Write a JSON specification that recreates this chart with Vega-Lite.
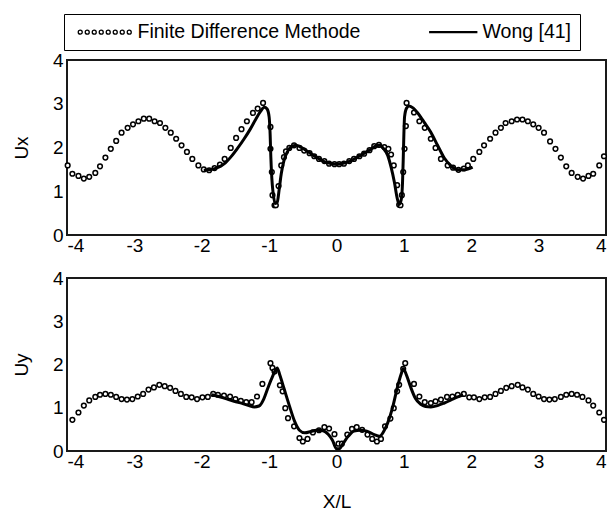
{
  "$schema": "https://vega.github.io/schema/vega-lite/v6.json",
  "padding": {"left": 11, "top": 12, "right": 4, "bottom": 2},
  "background": "white",
  "config": {
    "view": {"stroke": "#1a1a1a", "strokeWidth": 2},
    "font": "Liberation Sans",
    "axis": {
      "grid": false, "ticks": false, "domain": false,
      "labelFont": "Liberation Sans", "labelFontSize": 19, "labelColor": "black",
      "titleFont": "Liberation Sans", "titleFontSize": 19, "titleFontWeight": "normal", "titleColor": "black"
    }
  },
  "datasets": {
    "fdm_ux": [
      {"x": -3.99, "y": 1.59}, {"x": -3.92, "y": 1.40}, {"x": -3.83, "y": 1.35}, {"x": -3.75, "y": 1.29}, {"x": -3.67, "y": 1.33},
      {"x": -3.58, "y": 1.42}, {"x": -3.51, "y": 1.57}, {"x": -3.43, "y": 1.77}, {"x": -3.35, "y": 1.97}, {"x": -3.27, "y": 2.15},
      {"x": -3.19, "y": 2.34}, {"x": -3.10, "y": 2.45}, {"x": -3.02, "y": 2.53}, {"x": -2.94, "y": 2.60}, {"x": -2.86, "y": 2.66},
      {"x": -2.78, "y": 2.66}, {"x": -2.70, "y": 2.60}, {"x": -2.62, "y": 2.56}, {"x": -2.54, "y": 2.45}, {"x": -2.46, "y": 2.34},
      {"x": -2.38, "y": 2.20}, {"x": -2.30, "y": 2.05}, {"x": -2.22, "y": 1.90}, {"x": -2.14, "y": 1.74}, {"x": -2.05, "y": 1.59},
      {"x": -1.97, "y": 1.50}, {"x": -1.89, "y": 1.48}, {"x": -1.81, "y": 1.53}, {"x": -1.73, "y": 1.61}, {"x": -1.66, "y": 1.74},
      {"x": -1.57, "y": 1.99}, {"x": -1.49, "y": 2.22}, {"x": -1.41, "y": 2.42}, {"x": -1.33, "y": 2.60}, {"x": -1.24, "y": 2.79},
      {"x": -1.17, "y": 2.89}, {"x": -1.09, "y": 3.02}, {"x": -0.98, "y": 2.47}, {"x": -0.98, "y": 1.97}, {"x": -0.96, "y": 1.44},
      {"x": -0.95, "y": 0.91}, {"x": -0.92, "y": 0.68}, {"x": -0.90, "y": 0.68}, {"x": -0.86, "y": 1.12}, {"x": -0.82, "y": 1.59},
      {"x": -0.78, "y": 1.78}, {"x": -0.75, "y": 1.91}, {"x": -0.70, "y": 1.99}, {"x": -0.63, "y": 2.05}, {"x": -0.55, "y": 1.99},
      {"x": -0.48, "y": 1.93}, {"x": -0.40, "y": 1.87}, {"x": -0.33, "y": 1.80}, {"x": -0.26, "y": 1.74}, {"x": -0.18, "y": 1.69},
      {"x": -0.11, "y": 1.63}, {"x": -0.03, "y": 1.62}, {"x": 0.04, "y": 1.62}, {"x": 0.11, "y": 1.63}, {"x": 0.19, "y": 1.69},
      {"x": 0.26, "y": 1.74}, {"x": 0.34, "y": 1.80}, {"x": 0.41, "y": 1.86}, {"x": 0.49, "y": 1.94}, {"x": 0.56, "y": 2.03},
      {"x": 0.63, "y": 2.06}, {"x": 0.71, "y": 2.01}, {"x": 0.77, "y": 1.97}, {"x": 0.81, "y": 1.84}, {"x": 0.85, "y": 1.59},
      {"x": 0.90, "y": 1.14}, {"x": 0.93, "y": 0.69}, {"x": 0.95, "y": 0.68}, {"x": 0.97, "y": 0.91}, {"x": 0.99, "y": 1.44},
      {"x": 1.01, "y": 1.97}, {"x": 1.03, "y": 2.49}, {"x": 1.04, "y": 3.02}, {"x": 1.15, "y": 2.80}, {"x": 1.23, "y": 2.60},
      {"x": 1.31, "y": 2.45}, {"x": 1.40, "y": 2.20}, {"x": 1.47, "y": 1.99}, {"x": 1.55, "y": 1.74}, {"x": 1.65, "y": 1.59},
      {"x": 1.73, "y": 1.54}, {"x": 1.81, "y": 1.49}, {"x": 1.89, "y": 1.52}, {"x": 1.95, "y": 1.59}, {"x": 2.03, "y": 1.74},
      {"x": 2.12, "y": 1.90}, {"x": 2.19, "y": 2.05}, {"x": 2.28, "y": 2.20}, {"x": 2.36, "y": 2.34}, {"x": 2.44, "y": 2.45},
      {"x": 2.51, "y": 2.56}, {"x": 2.60, "y": 2.60}, {"x": 2.68, "y": 2.64}, {"x": 2.76, "y": 2.64}, {"x": 2.84, "y": 2.60},
      {"x": 2.92, "y": 2.53}, {"x": 3.00, "y": 2.45}, {"x": 3.08, "y": 2.34}, {"x": 3.17, "y": 2.14}, {"x": 3.25, "y": 1.97},
      {"x": 3.33, "y": 1.77}, {"x": 3.41, "y": 1.57}, {"x": 3.49, "y": 1.42}, {"x": 3.58, "y": 1.33}, {"x": 3.66, "y": 1.29},
      {"x": 3.74, "y": 1.35}, {"x": 3.81, "y": 1.40}, {"x": 3.90, "y": 1.59}, {"x": 3.97, "y": 1.80}
    ],
    "wong_ux": [
      {"x": -1.97, "y": 1.48}, {"x": -1.85, "y": 1.50}, {"x": -1.75, "y": 1.55}, {"x": -1.65, "y": 1.65}, {"x": -1.57, "y": 1.78},
      {"x": -1.47, "y": 1.98}, {"x": -1.37, "y": 2.20}, {"x": -1.28, "y": 2.42}, {"x": -1.20, "y": 2.64}, {"x": -1.13, "y": 2.82},
      {"x": -1.07, "y": 2.92}, {"x": -1.03, "y": 2.88}, {"x": -1.00, "y": 2.70}, {"x": -0.985, "y": 2.30}, {"x": -0.975, "y": 1.80},
      {"x": -0.96, "y": 1.30}, {"x": -0.94, "y": 0.95}, {"x": -0.91, "y": 0.72}, {"x": -0.88, "y": 0.75}, {"x": -0.85, "y": 1.05},
      {"x": -0.82, "y": 1.40}, {"x": -0.78, "y": 1.70}, {"x": -0.73, "y": 1.90}, {"x": -0.67, "y": 2.02}, {"x": -0.60, "y": 2.05},
      {"x": -0.52, "y": 2.00}, {"x": -0.40, "y": 1.88}, {"x": -0.30, "y": 1.78}, {"x": -0.20, "y": 1.69}, {"x": -0.10, "y": 1.64},
      {"x": 0.00, "y": 1.62}, {"x": 0.10, "y": 1.64}, {"x": 0.20, "y": 1.69}, {"x": 0.30, "y": 1.77}, {"x": 0.40, "y": 1.86},
      {"x": 0.50, "y": 1.95}, {"x": 0.58, "y": 2.03}, {"x": 0.64, "y": 2.05}, {"x": 0.70, "y": 1.97}, {"x": 0.76, "y": 1.82},
      {"x": 0.81, "y": 1.55}, {"x": 0.86, "y": 1.20}, {"x": 0.90, "y": 0.85}, {"x": 0.93, "y": 0.70}, {"x": 0.96, "y": 0.80},
      {"x": 0.98, "y": 1.20}, {"x": 0.99, "y": 1.70}, {"x": 1.00, "y": 2.30}, {"x": 1.01, "y": 2.70}, {"x": 1.04, "y": 2.90},
      {"x": 1.08, "y": 2.95}, {"x": 1.14, "y": 2.90}, {"x": 1.20, "y": 2.80}, {"x": 1.30, "y": 2.58}, {"x": 1.40, "y": 2.35},
      {"x": 1.50, "y": 2.05}, {"x": 1.60, "y": 1.76}, {"x": 1.70, "y": 1.58}, {"x": 1.80, "y": 1.49}, {"x": 1.90, "y": 1.49},
      {"x": 2.02, "y": 1.55}
    ],
    "fdm_uy": [
      {"x": -3.92, "y": 0.72}, {"x": -3.83, "y": 0.89}, {"x": -3.75, "y": 1.05}, {"x": -3.67, "y": 1.17}, {"x": -3.58, "y": 1.25},
      {"x": -3.51, "y": 1.30}, {"x": -3.43, "y": 1.32}, {"x": -3.35, "y": 1.30}, {"x": -3.27, "y": 1.25}, {"x": -3.19, "y": 1.20},
      {"x": -3.11, "y": 1.19}, {"x": -3.03, "y": 1.20}, {"x": -2.95, "y": 1.26}, {"x": -2.87, "y": 1.32}, {"x": -2.79, "y": 1.42},
      {"x": -2.71, "y": 1.47}, {"x": -2.63, "y": 1.53}, {"x": -2.55, "y": 1.50}, {"x": -2.47, "y": 1.46}, {"x": -2.39, "y": 1.39},
      {"x": -2.31, "y": 1.32}, {"x": -2.23, "y": 1.25}, {"x": -2.15, "y": 1.24}, {"x": -2.07, "y": 1.20}, {"x": -1.99, "y": 1.24},
      {"x": -1.91, "y": 1.25}, {"x": -1.83, "y": 1.32}, {"x": -1.76, "y": 1.30}, {"x": -1.67, "y": 1.28}, {"x": -1.58, "y": 1.26},
      {"x": -1.50, "y": 1.20}, {"x": -1.42, "y": 1.16}, {"x": -1.34, "y": 1.13}, {"x": -1.26, "y": 1.13}, {"x": -1.18, "y": 1.26},
      {"x": -1.10, "y": 1.55}, {"x": -0.98, "y": 2.03}, {"x": -0.95, "y": 1.92}, {"x": -0.92, "y": 1.84}, {"x": -0.84, "y": 1.52},
      {"x": -0.80, "y": 1.38}, {"x": -0.76, "y": 0.99}, {"x": -0.72, "y": 0.76}, {"x": -0.63, "y": 0.57}, {"x": -0.55, "y": 0.30},
      {"x": -0.50, "y": 0.22}, {"x": -0.43, "y": 0.28}, {"x": -0.35, "y": 0.43}, {"x": -0.26, "y": 0.48}, {"x": -0.18, "y": 0.55},
      {"x": -0.11, "y": 0.52}, {"x": -0.03, "y": 0.39}, {"x": 0.03, "y": 0.17}, {"x": 0.08, "y": 0.17}, {"x": 0.16, "y": 0.38},
      {"x": 0.23, "y": 0.51}, {"x": 0.30, "y": 0.55}, {"x": 0.38, "y": 0.49}, {"x": 0.46, "y": 0.38}, {"x": 0.53, "y": 0.28},
      {"x": 0.60, "y": 0.22}, {"x": 0.66, "y": 0.28}, {"x": 0.72, "y": 0.57}, {"x": 0.80, "y": 0.75}, {"x": 0.85, "y": 0.99},
      {"x": 0.90, "y": 1.38}, {"x": 0.93, "y": 1.53}, {"x": 0.99, "y": 1.90}, {"x": 1.02, "y": 2.03}, {"x": 1.15, "y": 1.55},
      {"x": 1.23, "y": 1.26}, {"x": 1.31, "y": 1.13}, {"x": 1.40, "y": 1.11}, {"x": 1.47, "y": 1.15}, {"x": 1.55, "y": 1.19},
      {"x": 1.64, "y": 1.25}, {"x": 1.72, "y": 1.26}, {"x": 1.80, "y": 1.30}, {"x": 1.89, "y": 1.32}, {"x": 1.97, "y": 1.24},
      {"x": 2.04, "y": 1.24}, {"x": 2.12, "y": 1.20}, {"x": 2.20, "y": 1.24}, {"x": 2.28, "y": 1.25}, {"x": 2.36, "y": 1.32},
      {"x": 2.44, "y": 1.39}, {"x": 2.52, "y": 1.46}, {"x": 2.60, "y": 1.50}, {"x": 2.69, "y": 1.53}, {"x": 2.76, "y": 1.47},
      {"x": 2.84, "y": 1.42}, {"x": 2.92, "y": 1.32}, {"x": 3.00, "y": 1.26}, {"x": 3.08, "y": 1.20}, {"x": 3.16, "y": 1.19},
      {"x": 3.24, "y": 1.20}, {"x": 3.33, "y": 1.25}, {"x": 3.41, "y": 1.30}, {"x": 3.49, "y": 1.32}, {"x": 3.57, "y": 1.30},
      {"x": 3.65, "y": 1.25}, {"x": 3.74, "y": 1.17}, {"x": 3.81, "y": 1.05}, {"x": 3.90, "y": 0.89}, {"x": 3.97, "y": 0.72}
    ],
    "wong_uy": [
      {"x": -1.85, "y": 1.30}, {"x": -1.75, "y": 1.26}, {"x": -1.62, "y": 1.20}, {"x": -1.52, "y": 1.15}, {"x": -1.40, "y": 1.10},
      {"x": -1.30, "y": 1.05}, {"x": -1.22, "y": 1.02}, {"x": -1.15, "y": 1.04}, {"x": -1.08, "y": 1.20}, {"x": -1.02, "y": 1.45},
      {"x": -0.95, "y": 1.72}, {"x": -0.88, "y": 1.92}, {"x": -0.84, "y": 1.75}, {"x": -0.78, "y": 1.45}, {"x": -0.70, "y": 1.05},
      {"x": -0.62, "y": 0.68}, {"x": -0.55, "y": 0.48}, {"x": -0.47, "y": 0.42}, {"x": -0.38, "y": 0.45}, {"x": -0.30, "y": 0.48},
      {"x": -0.20, "y": 0.47}, {"x": -0.12, "y": 0.38}, {"x": -0.06, "y": 0.25}, {"x": 0.00, "y": 0.05}, {"x": 0.04, "y": 0.05},
      {"x": 0.10, "y": 0.18}, {"x": 0.18, "y": 0.35}, {"x": 0.26, "y": 0.46}, {"x": 0.35, "y": 0.48}, {"x": 0.45, "y": 0.46},
      {"x": 0.56, "y": 0.38}, {"x": 0.64, "y": 0.34}, {"x": 0.70, "y": 0.45}, {"x": 0.76, "y": 0.65}, {"x": 0.84, "y": 1.05},
      {"x": 0.90, "y": 1.45}, {"x": 0.96, "y": 1.78}, {"x": 0.99, "y": 1.90}, {"x": 1.04, "y": 1.75}, {"x": 1.10, "y": 1.48},
      {"x": 1.17, "y": 1.22}, {"x": 1.25, "y": 1.08}, {"x": 1.32, "y": 1.03}, {"x": 1.40, "y": 1.02}, {"x": 1.50, "y": 1.05},
      {"x": 1.60, "y": 1.11}, {"x": 1.70, "y": 1.18}, {"x": 1.80, "y": 1.25}, {"x": 1.88, "y": 1.30}
    ],
    "legend_items": [
      {"series": "Finite Difference Methode"}, {"series": "Wong [41]"}
    ]
  },
  "vconcat": [
    {
      "width": 539, "height": 175,
      "layer": [
        {
          "data": {"name": "fdm_ux"},
          "mark": {"type": "point", "shape": "circle", "filled": false, "stroke": "black", "fill": "white", "fillOpacity": 1, "strokeWidth": 1.5, "size": 22, "opacity": 1},
          "encoding": {
            "x": {"field": "x", "type": "quantitative", "scale": {"domain": [-4, 4], "nice": false}, "axis": {"values": [-4, -3, -2, -1, 0, 1, 2, 3, 4], "labelExpr": "'' + datum.value", "title": null, "labelPadding": 1}},
            "y": {"field": "y", "type": "quantitative", "scale": {"domain": [0, 4], "nice": false}, "axis": {"values": [0, 1, 2, 3, 4], "labelExpr": "'' + datum.value", "title": "Ux", "labelPadding": 4, "titlePadding": 21}}
          }
        },
        {
          "data": {"name": "wong_ux"},
          "mark": {"type": "line", "color": "black", "strokeWidth": 3, "interpolate": "monotone"},
          "encoding": {
            "x": {"field": "x", "type": "quantitative"},
            "y": {"field": "y", "type": "quantitative"}
          }
        },
        {
          "data": {"name": "legend_items"},
          "mark": {"type": "point", "filled": false, "stroke": "black", "opacity": 0},
          "encoding": {
            "shape": {
              "field": "series", "type": "nominal",
              "scale": {
                "domain": ["Finite Difference Methode", "Wong [41]"],
                "range": [
                  "M-0.4375,0a0.25,0.25 0 1,0 0.5,0a0.25,0.25 0 1,0 -0.5,0M0.4375,0a0.25,0.25 0 1,0 0.5,0a0.25,0.25 0 1,0 -0.5,0M1.3125,0a0.25,0.25 0 1,0 0.5,0a0.25,0.25 0 1,0 -0.5,0M2.1875,0a0.25,0.25 0 1,0 0.5,0a0.25,0.25 0 1,0 -0.5,0M3.0625,0a0.25,0.25 0 1,0 0.5,0a0.25,0.25 0 1,0 -0.5,0M3.9375,0a0.25,0.25 0 1,0 0.5,0a0.25,0.25 0 1,0 -0.5,0M4.8125,0a0.25,0.25 0 1,0 0.5,0a0.25,0.25 0 1,0 -0.5,0M5.6875,0a0.25,0.25 0 1,0 0.5,0a0.25,0.25 0 1,0 -0.5,0",
                  "M0.375,-0.06H6.25V0.06H0.375Z"
                ]
              },
              "legend": {
                "title": null, "orient": "none", "direction": "horizontal",
                "legendX": -3, "legendY": -46,
                "strokeColor": "black", "padding": 8,
                "labelFont": "Liberation Sans", "labelFontSize": 19.5, "labelColor": "black", "labelLimit": 500,
                "symbolSize": 256, "symbolStrokeWidth": 1.3, "symbolStrokeColor": "black", "symbolFillColor": "white", "symbolOpacity": 1,
                "labelOffset": 46, "columnPadding": 56,
                "labelExpr": "datum.label == 'Wong [41]' ? datum.label + '\u00a0\u00a0\u00a0\u00a0\u00a0\u00a0' : datum.label"
              }
            }
          }
        }
      ]
    },
    {
      "width": 539, "height": 173,
      "layer": [
        {
          "data": {"name": "fdm_uy"},
          "mark": {"type": "point", "shape": "circle", "filled": false, "stroke": "black", "fill": "white", "fillOpacity": 1, "strokeWidth": 1.5, "size": 22, "opacity": 1},
          "encoding": {
            "x": {"field": "x", "type": "quantitative", "scale": {"domain": [-4, 4], "nice": false}, "axis": {"values": [-4, -3, -2, -1, 0, 1, 2, 3, 4], "labelExpr": "'' + datum.value", "title": "X/L", "labelPadding": 1, "titlePadding": 21}},
            "y": {"field": "y", "type": "quantitative", "scale": {"domain": [0, 4], "nice": false}, "axis": {"values": [0, 1, 2, 3, 4], "labelExpr": "'' + datum.value", "title": "Uy", "labelPadding": 4, "titlePadding": 21}}
          }
        },
        {
          "data": {"name": "wong_uy"},
          "mark": {"type": "line", "color": "black", "strokeWidth": 3, "interpolate": "monotone"},
          "encoding": {
            "x": {"field": "x", "type": "quantitative"},
            "y": {"field": "y", "type": "quantitative"}
          }
        }
      ]
    }
  ],
  "spacing": 12,
  "resolve": {"scale": {"shape": "independent"}, "legend": {"shape": "independent"}}
}
